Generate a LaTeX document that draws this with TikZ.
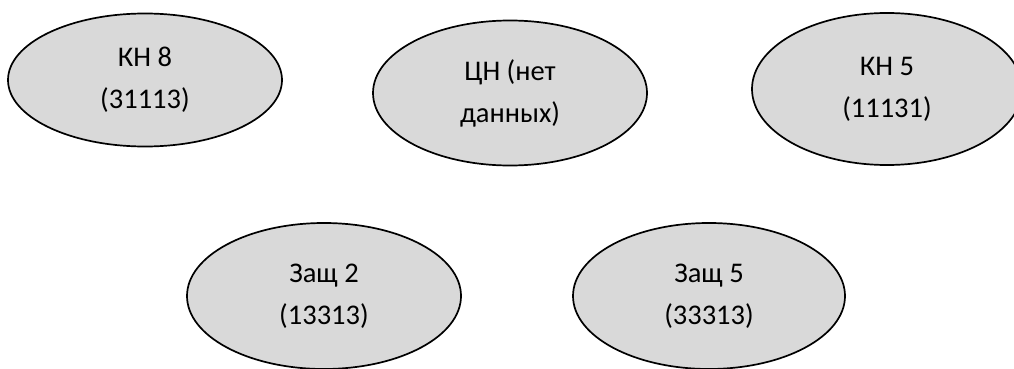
\documentclass[tikz,border=0pt]{standalone}
\usepackage{fontspec}
\setmainfont{Carlito}
\usetikzlibrary{shapes.geometric}
\begin{document}
\begin{tikzpicture}[x=1pt,y=-1pt,
  oval/.style={ellipse,draw=black,line width=1.7pt,fill=gray!30,inner sep=0pt,
    align=center,font=\fontsize{28.5}{42}\selectfont}]
\useasboundingbox (0,0) rectangle (1014,369);
\node[oval,minimum width=274pt,minimum height=133pt] (kn8) at (145,80) {КН 8\\(31113)};
\node[oval,minimum width=274pt,minimum height=145pt] (cn) at (510,93) {ЦН (нет\\данных)};
\node[oval,minimum width=270pt,minimum height=152pt] (kn5) at (887,89) {КН 5\\(11131)};
\node[oval,minimum width=274pt,minimum height=146pt] (z2) at (324,296) {Защ 2\\(13313)};
\node[oval,minimum width=272pt,minimum height=146pt] (z5) at (709,296) {Защ 5\\(33313)};
\end{tikzpicture}
\end{document}
